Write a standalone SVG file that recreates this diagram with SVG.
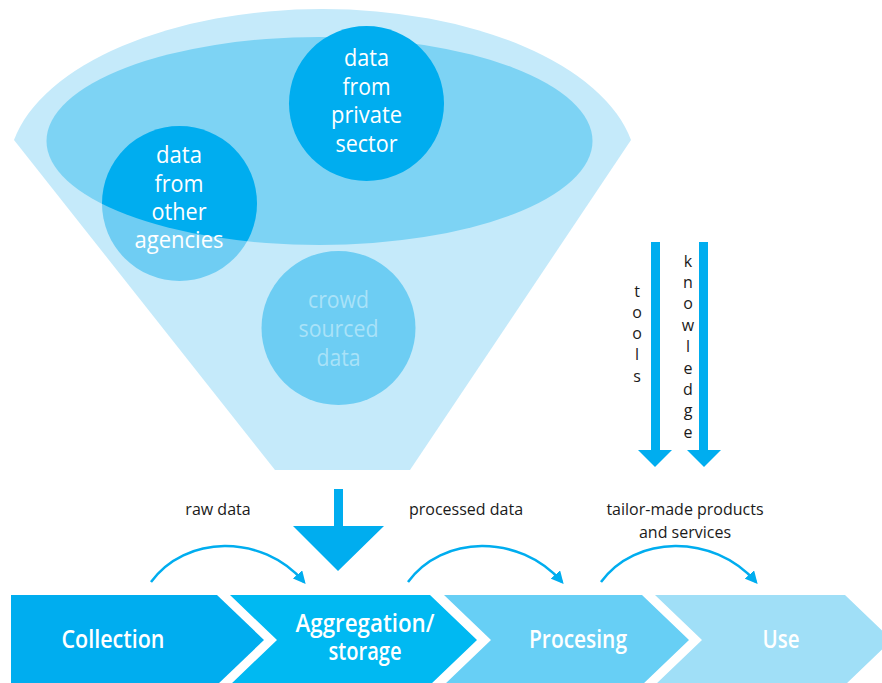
<svg xmlns="http://www.w3.org/2000/svg" width="882" height="683" viewBox="0 0 882 683">
<style>
.ct{font-family:"Open Sans","Noto Sans",sans-serif;font-size:23px;fill:#ffffff;text-anchor:middle}
.cr{fill:#a9e2f8}
.lb{font-family:"Open Sans","Noto Sans",sans-serif;font-size:16px;fill:#1a1a1a;text-anchor:middle}
.vt{font-family:"Open Sans","Liberation Sans",sans-serif;font-size:16px;fill:#1a1a1a;text-anchor:middle}
.st{font-family:"Open Sans","Noto Sans",sans-serif;font-size:26px;font-weight:600;fill:#ffffff;text-anchor:middle}
.curve{fill:none;stroke:#00adef;stroke-width:2.5}
.blue{fill:#00adef}
</style>
<defs>
<marker id="ah" viewBox="0 0 10 10" refX="8" refY="5" markerWidth="5" markerHeight="5" orient="auto" markerUnits="strokeWidth">
<path d="M0,0 L10,5 L0,10 Z" fill="#00adef"/>
</marker>
<clipPath id="ellClip"><ellipse cx="319.5" cy="141" rx="273" ry="104"/></clipPath>
</defs>

<g id="funnel">
<path d="M14,140 A314,161 0 0 1 631,140 L410,470 L275,470 Z" fill="#c5eafa"/>
<ellipse cx="319.5" cy="141" rx="273" ry="104" fill="#7dd3f4"/>
</g>

<g id="crowd">
<circle cx="338.5" cy="328" r="77" fill="#6dcdf3"/>
<text class="ct cr" x="338.5" y="308" textLength="61" lengthAdjust="spacingAndGlyphs">crowd</text>
<text class="ct cr" x="338.5" y="337" textLength="80" lengthAdjust="spacingAndGlyphs">sourced</text>
<text class="ct cr" x="338.5" y="366" textLength="44" lengthAdjust="spacingAndGlyphs">data</text>
</g>

<g id="agencies">
<circle cx="179.5" cy="203.5" r="77.5" fill="#6fcdf3"/>
<circle cx="179.5" cy="203.5" r="77.5" fill="#00adef" clip-path="url(#ellClip)"/>
<text class="ct" x="179" y="163" textLength="46" lengthAdjust="spacingAndGlyphs">data</text>
<text class="ct" x="179" y="192" textLength="49" lengthAdjust="spacingAndGlyphs">from</text>
<text class="ct" x="179" y="220" textLength="55" lengthAdjust="spacingAndGlyphs">other</text>
<text class="ct" x="179" y="248" textLength="89" lengthAdjust="spacingAndGlyphs">agencies</text>
</g>

<g id="private">
<circle cx="366.5" cy="103.5" r="77.5" fill="#00adef"/>
<text class="ct" x="366.5" y="66" textLength="45" lengthAdjust="spacingAndGlyphs">data</text>
<text class="ct" x="366.5" y="95" textLength="48" lengthAdjust="spacingAndGlyphs">from</text>
<text class="ct" x="366.5" y="123" textLength="71" lengthAdjust="spacingAndGlyphs">private</text>
<text class="ct" x="366.5" y="152" textLength="62" lengthAdjust="spacingAndGlyphs">sector</text>
</g>

<g id="tools">
<path class="blue" d="M651,242 H660 V450 H672 L655,467 L638,450 H651 Z"/>
<text class="vt" x="637" y="297">t</text>
<text class="vt" x="637" y="318">o</text>
<text class="vt" x="637" y="339">o</text>
<text class="vt" x="637" y="360">l</text>
<text class="vt" x="637" y="382">s</text>
</g>

<g id="knowledge">
<path class="blue" d="M699,242 H708 V450 H721 L704,467 L687,450 H699 Z"/>
<text class="vt" x="688" y="267">k</text>
<text class="vt" x="688" y="288">n</text>
<text class="vt" x="688" y="309">o</text>
<text class="vt" x="688" y="331">w</text>
<text class="vt" x="688" y="352">l</text>
<text class="vt" x="688" y="374">e</text>
<text class="vt" x="688" y="395">d</text>
<text class="vt" x="688" y="416">g</text>
<text class="vt" x="688" y="438">e</text>
</g>

<g id="connectors">
<path class="blue" d="M334,489 H343 V526 H384 L338,571 L293,526 H334 Z"/>
<path class="curve" d="M151,582 C185,535 262,533 304,582" marker-end="url(#ah)"/>
<path class="curve" d="M408,582 C442,535 519,533 562,582" marker-end="url(#ah)"/>
<path class="curve" d="M601,582 C635,535 713,533 756,582" marker-end="url(#ah)"/>
<text class="lb" x="218" y="515">raw data</text>
<text class="lb" x="466" y="515">processed data</text>
<text class="lb" x="685" y="515">tailor-made products</text>
<text class="lb" x="685" y="538">and services</text>
</g>

<g id="collection">
<path d="M11,595 H217 L264,640 L217,685 H11 Z" fill="#00adef"/>
<text class="st" x="113" y="648" textLength="103" lengthAdjust="spacingAndGlyphs">Collection</text>
</g>
<g id="aggregation">
<path d="M230,595 H430 L477,640 L430,685 H230 L277,640 Z" fill="#00b9f2"/>
<text class="st" x="365" y="632" textLength="139" lengthAdjust="spacingAndGlyphs">Aggregation/</text>
<text class="st" x="365" y="660" textLength="73" lengthAdjust="spacingAndGlyphs">storage</text>
</g>
<g id="processing">
<path d="M444,595 H642 L689,640 L642,685 H444 L491,640 Z" fill="#67cff5"/>
<text class="st" x="578" y="648" textLength="98" lengthAdjust="spacingAndGlyphs">Procesing</text>
</g>
<g id="use">
<path d="M655,595 H845 L892,640 L845,685 H655 L702,640 Z" fill="#a0dff7"/>
<text class="st" x="781" y="648" textLength="37" lengthAdjust="spacingAndGlyphs">Use</text>
</g>
</svg>
